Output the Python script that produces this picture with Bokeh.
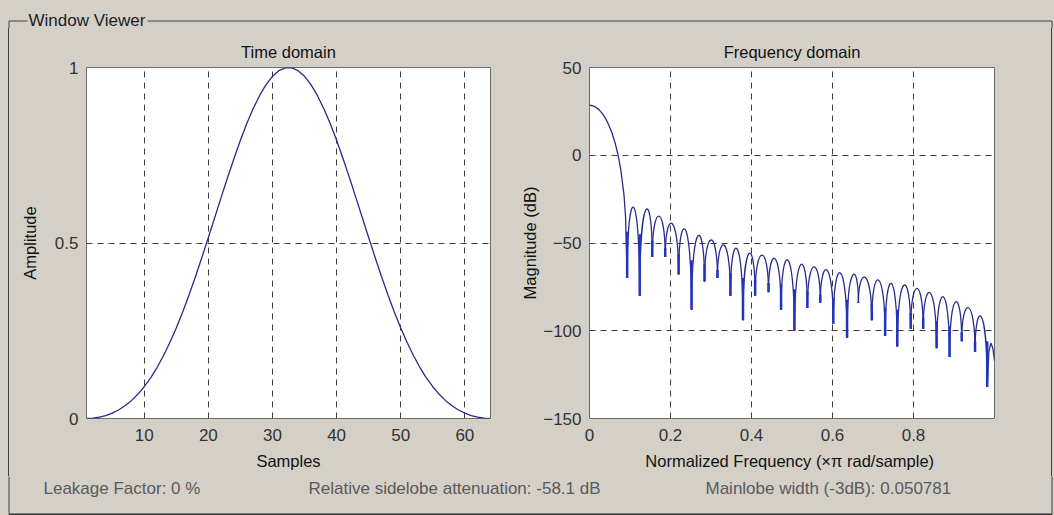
from bokeh.plotting import figure
from bokeh.models import Range1d, FixedTicker, Label, Div
from bokeh.layouts import column, row
from bokeh.embed import file_html
from bokeh.resources import INLINE

# ---------------- data ----------------
samples = list(range(1, 65))
amplitude = [0.0000, 0.0009, 0.0036, 0.0083, 0.0151, 0.0243, 0.0361, 0.0509,
             0.0689, 0.0905, 0.1158, 0.1452, 0.1787, 0.2163, 0.2580, 0.3035,
             0.3526, 0.4046, 0.4592, 0.5155, 0.5726, 0.6300, 0.6864, 0.7409,
             0.7925, 0.8402, 0.8832, 0.9204, 0.9511, 0.9748, 0.9909, 0.9990,
             0.9990, 0.9909, 0.9748, 0.9511, 0.9204, 0.8832, 0.8402, 0.7925,
             0.7409, 0.6864, 0.6300, 0.5726, 0.5155, 0.4592, 0.4046, 0.3526,
             0.3035, 0.2580, 0.2163, 0.1787, 0.1452, 0.1158, 0.0905, 0.0689,
             0.0509, 0.0361, 0.0243, 0.0151, 0.0083, 0.0036, 0.0009, 0.0000]

mainlobe_freq = [0.0, 0.0078, 0.0155, 0.0233, 0.0310, 0.0388, 0.0465, 0.0543,
                 0.0620, 0.0698, 0.0775, 0.0853, 0.0890, 0.0930]
mainlobe_mag = [28.5, 28.2, 27.4, 26.0, 24.0, 21.3, 17.8, 13.5,
                8.0, 1.0, -8.5, -23.0, -35.0, -70.0]

null_freq = [0.093, 0.124, 0.155, 0.187, 0.220, 0.252, 0.284, 0.316, 0.348, 0.379,
             0.409, 0.442, 0.473, 0.506, 0.538, 0.570, 0.602, 0.636, 0.664, 0.697,
             0.730, 0.760, 0.793, 0.824, 0.857, 0.889, 0.919, 0.952, 0.982]
null_mag = [-70, -80, -58, -58, -68, -88, -72, -70, -80, -94,
            -80, -78, -88, -100, -87, -84, -96, -104, -84, -94,
            -103, -109, -99, -99, -110, -115, -106, -112, -132]
sidelobe_peak = [-29.6, -31.0, -34.7, -38.8, -42.3, -45.9, -48.3, -51.2, -53.1, -56.0,
                 -56.9, -58.8, -59.7, -62.3, -63.6, -65.4, -67.0, -68.3, -69.6, -71.1,
                 -73.0, -74.0, -75.9, -78.4, -80.6, -83.5, -86.9, -92.0]
tail_freq = [0.982, 0.986, 0.991, 0.996, 1.0]
tail_mag = [-132, -112, -107, -110, -117]

time_xticks = [10, 20, 30, 40, 50, 60]
time_yticks = [0, 0.5, 1]
time_ylabels = ["0", "0.5", "1"]
freq_xticks = [0, 0.2, 0.4, 0.6, 0.8]
freq_xlabels = ["0", "0.2", "0.4", "0.6", "0.8"]
freq_yticks = [-150, -100, -50, 0, 50]

status_texts = ["Leakage Factor: 0 %",
                "Relative sidelobe attenuation: -58.1 dB",
                "Mainlobe width (-3dB): 0.050781"]

# ---------------- styling / layout (page pixels) ----------------
BG = "#d4d0c8"
LINE = "#2a2a8c"
SPIKE = "#2233c0"
GRID = "#3c3c3c"
BOXC = "#404040"
FONT = "Liberation Sans"
FS = "16.5px"
TFS = "17px"

W, H = 1054, 515
TOP_H = 28
BOT_Y = 476
MID_H = BOT_Y - TOP_H
BOT_H = H - BOT_Y
FRAME_T, FRAME_B = 67, 418
LS_W = 10
SPLIT = 508
RS_X = 1046
GX0, GX1 = 8.5, 1051.5        # group box vertical lines
GY_TOP, GY_BOT = 20.5, 514     # group box horizontal lines


def style(p, title):
    p.background_fill_color = "white"
    p.border_fill_color = BG
    p.outline_line_color = "#6e6e6e"
    p.title.text = title
    p.title.align = "center"
    p.title.text_font = FONT
    p.title.text_font_size = FS
    p.title.text_font_style = "normal"
    p.title.text_color = "#111111"
    p.title.standoff = 14
    for g in (p.xgrid, p.ygrid):
        g.grid_line_color = GRID
        g.grid_line_dash = "6 5"
        g.grid_line_width = 1
    for ax in p.axis:
        ax.axis_line_color = None
        ax.major_tick_line_color = None
        ax.minor_tick_line_color = None
        ax.major_tick_out = 0
        ax.major_tick_in = 0
        ax.minor_tick_out = 0
        ax.minor_tick_in = 0
        ax.major_label_text_font = FONT
        ax.major_label_text_font_size = TFS
        ax.major_label_text_color = "#333333"
        ax.axis_label_text_font = FONT
        ax.axis_label_text_font_size = FS
        ax.axis_label_text_font_style = "normal"
        ax.axis_label_text_color = "#111111"
    p.xaxis.major_label_standoff = 10
    p.yaxis.major_label_standoff = 8
    p.xaxis.axis_label_standoff = 8


def strip(w, h):
    s = figure(width=w, height=h, output_backend="svg", toolbar_location=None,
               x_axis_location=None, y_axis_location=None, min_border=0,
               x_range=Range1d(0, w), y_range=Range1d(h, 0))
    s.background_fill_color = BG
    s.border_fill_color = BG
    s.outline_line_color = None
    s.xgrid.visible = False
    s.ygrid.visible = False
    return s


def vline_div(w, h, xline):
    a, b = int(xline - 0.5), int(xline + 0.5)
    grad = (f"linear-gradient(to right, {BG} 0px, {BG} {a}px, {BOXC} {a}px, "
            f"{BOXC} {b}px, {BG} {b}px, {BG} 100%)")
    return Div(text="", width=w, height=h, margin=0,
               styles={"background": grad, "padding": "0px"})


# ---- time domain ----
pt_w = SPLIT - LS_W
pt = figure(width=pt_w, height=MID_H, output_backend="svg", toolbar_location=None,
            x_range=Range1d(1, 64), y_range=Range1d(0, 1),
            min_border_left=86 - LS_W, min_border_right=SPLIT - 490,
            min_border_top=FRAME_T - TOP_H, min_border_bottom=BOT_Y - FRAME_B)
style(pt, "Time domain")
pt.xaxis.ticker = FixedTicker(ticks=time_xticks)
pt.yaxis.ticker = FixedTicker(ticks=time_yticks)
pt.yaxis.major_label_overrides = {float(k): v for k, v in zip(time_yticks, time_ylabels)}
pt.xaxis.axis_label = "Samples"
pt.yaxis.axis_label = "Amplitude"
pt.yaxis.axis_label_standoff = 13
pt.line(samples, amplitude, line_color=LINE, line_width=1.3)

# ---- frequency domain ----
pf_w = RS_X - SPLIT
pf = figure(width=pf_w, height=MID_H, output_backend="svg", toolbar_location=None,
            x_range=Range1d(0, 1), y_range=Range1d(-150, 50),
            min_border_left=589 - SPLIT, min_border_right=RS_X - 994,
            min_border_top=FRAME_T - TOP_H, min_border_bottom=BOT_Y - FRAME_B)
style(pf, "Frequency domain")
pf.xaxis.ticker = FixedTicker(ticks=freq_xticks)
pf.yaxis.ticker = FixedTicker(ticks=freq_yticks)
pf.xaxis.major_label_overrides = {float(k): v for k, v in zip(freq_xticks, freq_xlabels)}
pf.xaxis.axis_label = "Normalized Frequency  (\u00d7\u03c0 rad/sample)"
pf.yaxis.axis_label = "Magnitude (dB)"
pf.yaxis.axis_label_standoff = 1

pf.line(mainlobe_freq, mainlobe_mag, line_color=LINE, line_width=1.3)
x0, x1 = null_freq[:-1], null_freq[1:]
y0, y1 = null_mag[:-1], null_mag[1:]
ctrl = [(pk - (a + b) / 8.0) / 0.75 for pk, a, b in zip(sidelobe_peak, y0, y1)]
pf.bezier(x0=x0, y0=y0, x1=x1, y1=y1, cx0=x0, cy0=ctrl, cx1=x1, cy1=ctrl,
          line_color=LINE, line_width=1.3)
pf.line(tail_freq, tail_mag, line_color=LINE, line_width=1.3)

# blue thick lower part of the nulls
sx, sy0, sy1 = [], [], []
for i, (f, m) in enumerate(zip(null_freq, null_mag)):
    neigh = []
    if i - 1 >= 0:
        neigh.append(sidelobe_peak[i - 1])
    if i < len(sidelobe_peak):
        neigh.append(sidelobe_peak[i])
    top = min(neigh) - 14
    if top > m:
        sx.append(f); sy0.append(m); sy1.append(top)
pf.segment(x0=sx, y0=sy0, x1=sx, y1=sy1, line_color=SPIKE, line_width=2.5)

# ---- group box pieces ----
top = strip(W, TOP_H)
top.segment(x0=[GX0, 147, GX0, GX1], y0=[GY_TOP, GY_TOP, GY_TOP, GY_TOP],
            x1=[27, GX1, GX0, GX1], y1=[GY_TOP, GY_TOP, TOP_H + 2, TOP_H + 2],
            line_color=BOXC, line_width=1)
top.add_layout(Label(x=28, y=19.5, text="Window Viewer", text_font=FONT,
                     text_font_size=TFS, text_color="#202020",
                     text_align="left", text_baseline="middle"))

left = vline_div(LS_W, MID_H, GX0)
right = vline_div(W - RS_X, MID_H, GX1 - RS_X)

bot = strip(W, BOT_H)
gb = GY_BOT - BOT_Y
bot.segment(x0=[GX0, GX1], y0=[-2, -2], x1=[GX0, GX1], y1=[gb, gb],
            line_color=BOXC, line_width=1)
bot.segment(x0=[GX0], y0=[gb], x1=[GX1], y1=[gb], line_color="#303030", line_width=2)
for txt, xl in zip(status_texts, [43, 308, 705]):
    bot.add_layout(Label(x=xl, y=488.3 - BOT_Y, text=txt, text_font=FONT,
                         text_font_size=TFS, text_color="#5a5a5a",
                         text_align="left", text_baseline="middle"))

layout = column(top, row(left, pt, pf, right), bot)

TEMPLATE = """{% block preamble %}<style>html, body { background: #d4d0c8; overflow: hidden; }</style>{% endblock %}"""
open("out.html", "w").write(file_html(layout, INLINE, "Window Viewer", template=TEMPLATE))
